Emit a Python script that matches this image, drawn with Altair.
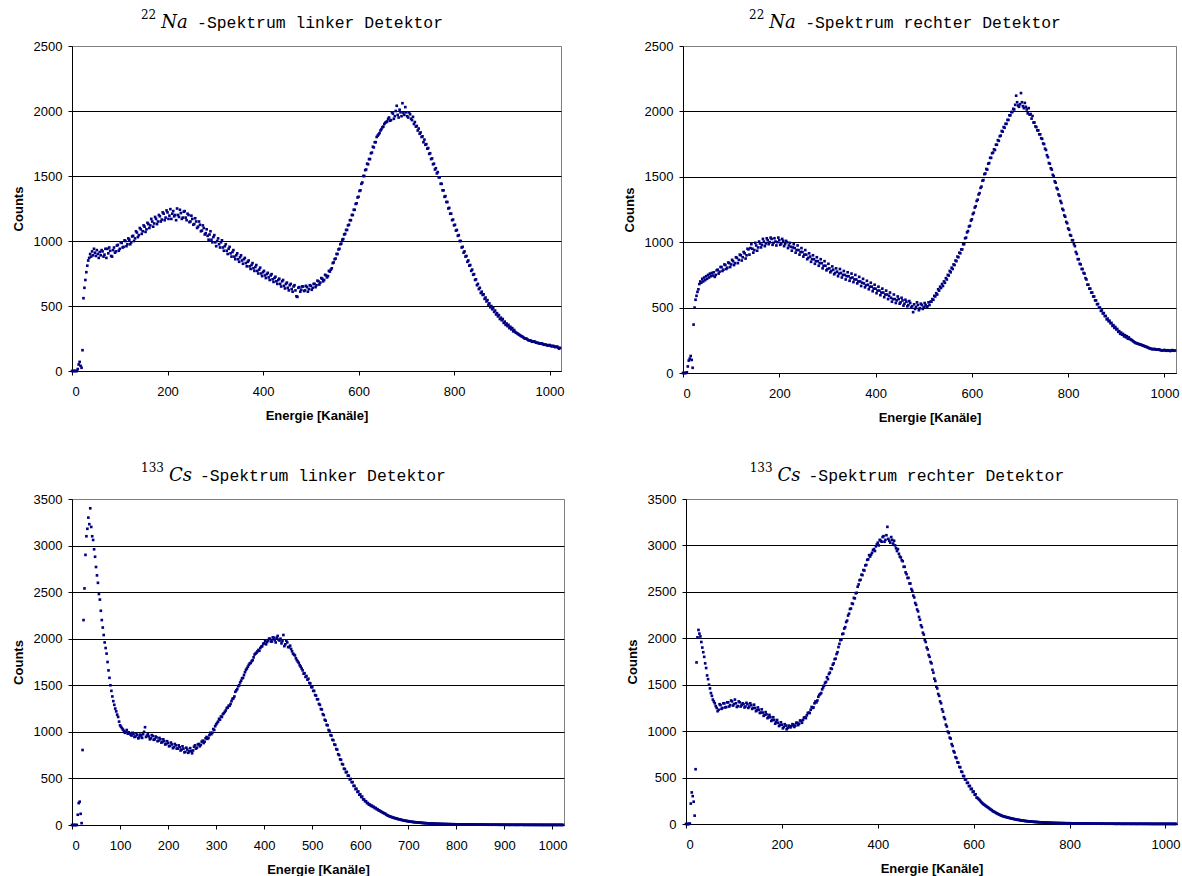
import altair as alt
import pandas as pd

# Every 2nd channel of the 1024-channel MCA
CHANNELS = list(range(0, 1024, 2))

# 22Na spectrum, left detector (16 values = 32 channels per row)
NA_LEFT = [
    0, 0, 0, 0, 0, 0, 15, 50, 70, 40, 25, 160, 560, 640, 700, 760,
    810, 850, 870, 900, 880, 920, 890, 940, 910, 885, 930, 900, 870, 915, 890, 930,
    920, 880, 895, 940, 870, 940, 905, 950, 925, 885, 880, 930, 950, 910, 920, 965,
    970, 925, 940, 990, 985, 950, 955, 1005, 1000, 960, 975, 1020, 1010, 975, 990, 1035,
    1040, 1000, 1020, 1075, 1065, 1030, 1045, 1100, 1090, 1055, 1075, 1120, 1110, 1070, 1090, 1140,
    1130, 1100, 1120, 1170, 1150, 1110, 1135, 1185, 1170, 1130, 1150, 1200, 1190, 1150, 1165, 1220,
    1210, 1160, 1180, 1235, 1220, 1170, 1195, 1245, 1170, 1210, 1230, 1190, 1200, 1160, 1250, 1200,
    1185, 1240, 1215, 1170, 1180, 1225, 1230, 1180, 1160, 1210, 1200, 1145, 1150, 1195, 1170, 1125,
    1130, 1175, 1150, 1100, 1110, 1150, 1125, 1075, 1080, 1120, 1100, 1050, 1060, 1090, 1040, 1010,
    1050, 1075, 1010, 990, 1030, 1045, 990, 960, 1000, 1020, 975, 950, 990, 1005, 950, 925,
    960, 975, 925, 900, 940, 955, 905, 880, 915, 930, 880, 860, 890, 905, 860, 840,
    875, 890, 850, 825, 860, 870, 830, 805, 840, 850, 805, 785, 815, 830, 790, 770,
    800, 815, 770, 750, 780, 795, 750, 730, 760, 770, 735, 715, 745, 755, 720, 700,
    735, 745, 705, 685, 715, 725, 690, 670, 700, 710, 670, 650, 690, 700, 655, 635,
    670, 680, 640, 620, 660, 670, 630, 610, 650, 660, 620, 575, 570, 640, 645, 610,
    625, 650, 650, 615, 620, 655, 645, 610, 630, 660, 655, 625, 640, 670, 670, 645,
    660, 695, 690, 665, 680, 715, 710, 690, 700, 740, 735, 720, 730, 770, 765, 780,
    790, 830, 835, 860, 865, 900, 900, 935, 940, 975, 980, 1010, 1015, 1050, 1055, 1085,
    1085, 1120, 1125, 1160, 1160, 1200, 1200, 1240, 1240, 1285, 1290, 1335, 1340, 1385, 1390, 1440,
    1450, 1500, 1500, 1545, 1550, 1595, 1590, 1630, 1630, 1675, 1680, 1725, 1720, 1760, 1760, 1800,
    1810, 1820, 1830, 1850, 1860, 1875, 1880, 1900, 1910, 1915, 1920, 1940, 1950, 1925, 1930, 1990,
    1980, 1940, 1960, 2000, 2040, 1970, 1950, 2010, 1990, 1960, 2060, 1985, 1970, 2030, 1990, 1960,
    1950, 1990, 1975, 1940, 1930, 1955, 1900, 1915, 1880, 1885, 1850, 1865, 1825, 1835, 1800, 1805,
    1760, 1780, 1740, 1745, 1710, 1715, 1670, 1675, 1630, 1635, 1590, 1595, 1550, 1560, 1520, 1530,
    1490, 1490, 1440, 1440, 1390, 1390, 1340, 1345, 1300, 1300, 1250, 1255, 1210, 1210, 1160, 1165,
    1120, 1125, 1080, 1085, 1040, 1045, 1000, 1000, 950, 955, 910, 920, 880, 885, 840, 850,
    810, 815, 770, 780, 740, 745, 700, 705, 660, 670, 630, 640, 600, 610, 585, 590,
    555, 565, 535, 545, 510, 520, 490, 500, 475, 485, 455, 465, 435, 445, 420, 430,
    400, 410, 390, 400, 370, 380, 355, 365, 345, 355, 330, 340, 320, 330, 305, 315,
    300, 295, 290, 285, 280, 275, 270, 266, 262, 256, 250, 249, 248, 242, 236, 235,
    235, 230, 225, 226, 228, 223, 218, 217, 216, 213, 210, 211, 212, 207, 202, 203,
    203, 199, 196, 198, 200, 195, 190, 192, 193, 188, 184, 186, 188, 180, 172, 178,
]

# 22Na spectrum, right detector
NA_RIGHT = [
    0, 0, 0, 0, 5, 50, 95, 110, 130, 100, 40, 370, 500, 560, 590, 620,
    640, 680, 700, 690, 720, 700, 730, 710, 740, 720, 750, 730, 760, 740, 765, 745,
    770, 735, 750, 785, 790, 760, 775, 810, 810, 780, 790, 830, 825, 795, 805, 845,
    840, 810, 830, 865, 855, 825, 840, 885, 880, 840, 865, 905, 900, 860, 885, 925,
    915, 875, 900, 950, 945, 905, 955, 985, 950, 920, 940, 995, 975, 935, 960, 1005,
    990, 960, 980, 1025, 1005, 970, 990, 1030, 1015, 985, 1000, 1035, 1025, 980, 995, 1030,
    1005, 975, 1000, 1035, 1015, 980, 990, 1025, 1010, 970, 985, 1010, 1000, 955, 975, 995,
    965, 935, 960, 985, 955, 920, 940, 975, 940, 905, 925, 955, 925, 890, 905, 940,
    905, 870, 880, 915, 890, 850, 870, 900, 870, 835, 855, 885, 855, 820, 840, 870,
    840, 800, 820, 855, 820, 785, 795, 835, 800, 770, 780, 815, 790, 755, 765, 800,
    775, 740, 760, 795, 765, 730, 750, 780, 750, 715, 740, 770, 740, 705, 725, 760,
    730, 695, 715, 750, 715, 685, 700, 735, 700, 665, 690, 720, 685, 655, 670, 705,
    675, 640, 660, 690, 660, 625, 645, 675, 645, 610, 630, 660, 630, 595, 615, 645,
    615, 580, 600, 630, 600, 565, 590, 615, 575, 545, 565, 600, 565, 535, 555, 585,
    565, 530, 540, 575, 555, 515, 530, 560, 545, 510, 520, 550, 535, 500, 510, 465,
    525, 490, 505, 540, 520, 480, 495, 530, 520, 490, 505, 535, 520, 505, 510, 540,
    520, 545, 545, 565, 560, 590, 585, 610, 600, 640, 630, 660, 650, 680, 665, 700,
    690, 725, 715, 750, 745, 780, 770, 805, 795, 830, 825, 860, 855, 890, 885, 920,
    915, 945, 945, 985, 985, 1030, 1035, 1075, 1085, 1120, 1125, 1165, 1175, 1215, 1225, 1265,
    1275, 1315, 1325, 1365, 1375, 1415, 1425, 1470, 1475, 1520, 1525, 1560, 1555, 1600, 1605, 1645,
    1645, 1680, 1685, 1710, 1705, 1745, 1745, 1780, 1775, 1810, 1815, 1850, 1845, 1880, 1875, 1905,
    1905, 1935, 1935, 1970, 1970, 1995, 1995, 2020, 2015, 2050, 2120, 2070, 2045, 2035, 2055, 2140,
    2070, 2040, 2025, 2065, 2035, 2015, 1985, 2025, 1975, 1980, 1945, 1965, 1915, 1915, 1885, 1880,
    1855, 1855, 1825, 1825, 1795, 1790, 1755, 1750, 1715, 1705, 1665, 1650, 1605, 1600, 1565, 1555,
    1515, 1505, 1465, 1455, 1415, 1405, 1365, 1355, 1315, 1300, 1255, 1245, 1205, 1195, 1155, 1145,
    1105, 1095, 1055, 1050, 1015, 1015, 985, 970, 925, 910, 870, 870, 835, 830, 795, 795,
    765, 760, 725, 715, 675, 675, 645, 645, 615, 615, 585, 585, 555, 555, 525, 528,
    500, 500, 475, 478, 455, 458, 435, 436, 410, 416, 395, 400, 380, 383, 360, 366,
    345, 352, 333, 337, 315, 320, 300, 309, 293, 299, 280, 289, 273, 281, 263, 272,
    260, 256, 252, 246, 240, 235, 230, 228, 225, 222, 220, 218, 215, 212, 210, 206,
    203, 200, 198, 194, 190, 188, 185, 183, 182, 183, 183, 180, 178, 179, 180, 177,
    175, 173, 172, 174, 176, 173, 170, 172, 174, 171, 168, 171, 175, 172, 170, 172,
]

# 133Cs spectrum, left detector
CS_LEFT = [
    0, 0, 0, 0, 0, 0, 110, 235, 250, 120, 20, 805, 2200, 2540, 2900, 3100,
    3180, 3300, 3230, 3400, 3200, 3100, 3060, 2960, 2880, 2770, 2680, 2600, 2480, 2420, 2300, 2200,
    2120, 2040, 1960, 1900, 1840, 1750, 1660, 1580, 1500, 1440, 1380, 1330, 1290, 1250, 1220, 1185,
    1160, 1110, 1070, 1055, 1040, 1025, 1010, 990, 1000, 1020, 980, 995, 985, 970, 960, 990,
    975, 945, 950, 985, 965, 930, 940, 970, 960, 935, 975, 1000, 1050, 945, 960, 975,
    950, 920, 930, 965, 955, 915, 920, 950, 940, 900, 905, 935, 920, 885, 890, 920,
    900, 865, 870, 900, 880, 845, 850, 885, 865, 825, 835, 870, 855, 820, 820, 855,
    835, 800, 810, 845, 820, 780, 785, 830, 810, 775, 790, 825, 795, 770, 800, 840,
    855, 820, 830, 865, 870, 845, 860, 895, 905, 880, 895, 930, 945, 925, 935, 965,
    990, 975, 990, 1030, 1020, 1060, 1080, 1095, 1110, 1140, 1130, 1165, 1160, 1190, 1200, 1215,
    1230, 1255, 1260, 1280, 1280, 1300, 1330, 1355, 1360, 1380, 1430, 1445, 1460, 1490, 1500, 1530,
    1550, 1575, 1580, 1610, 1640, 1665, 1680, 1700, 1720, 1735, 1740, 1760, 1770, 1800, 1830, 1840,
    1850, 1865, 1880, 1870, 1900, 1915, 1920, 1945, 1950, 1975, 1940, 1965, 1980, 2000, 2000, 1970,
    1970, 2015, 2010, 1985, 1960, 2010, 2030, 1990, 1980, 2000, 1950, 1975, 2040, 1920, 1940, 1980,
    1960, 1910, 1910, 1925, 1890, 1865, 1840, 1830, 1820, 1790, 1770, 1755, 1740, 1715, 1700, 1680,
    1660, 1625, 1630, 1590, 1600, 1560, 1570, 1525, 1520, 1480, 1480, 1440, 1440, 1395, 1390, 1350,
    1350, 1300, 1290, 1245, 1240, 1190, 1180, 1130, 1120, 1075, 1070, 1020, 1010, 965, 960, 915,
    910, 865, 860, 815, 810, 760, 750, 705, 700, 655, 650, 605, 600, 565, 570, 530,
    530, 490, 495, 460, 460, 420, 420, 385, 390, 355, 360, 325, 330, 300, 305, 275,
    275, 255, 255, 235, 235, 218, 220, 205, 208, 195, 195, 182, 183, 170, 170, 158,
    155, 148, 142, 136, 130, 125, 120, 112, 105, 100, 95, 91, 88, 84, 80, 77,
    74, 71, 68, 65, 62, 60, 57, 54, 52, 50, 47, 45, 44, 42, 40, 38,
    37, 35, 34, 32, 31, 30, 29, 28, 27, 26, 25, 24, 23, 22, 21, 20,
    20, 19, 18, 17, 17, 16, 16, 15, 15, 14, 14, 13, 13, 12, 12, 12,
    11, 11, 11, 10, 10, 10, 10, 9, 9, 9, 9, 8, 8, 8, 8, 7,
    7, 7, 7, 7, 7, 6, 6, 6, 6, 6, 6, 5, 5, 6, 5, 5,
    5, 5, 4, 5, 4, 5, 4, 4, 4, 4, 5, 4, 4, 4, 4, 3,
    4, 3, 3, 4, 3, 3, 3, 4, 3, 3, 3, 3, 3, 2, 3, 3,
    2, 3, 3, 2, 2, 3, 2, 2, 2, 2, 3, 2, 2, 2, 2, 2,
    2, 2, 2, 2, 3, 2, 2, 1, 2, 2, 2, 1, 2, 2, 1, 2,
    2, 1, 2, 1, 1, 2, 2, 1, 1, 2, 1, 1, 1, 2, 1, 1,
    1, 1, 2, 1, 1, 1, 2, 1, 1, 1, 1, 2, 1, 1, 1, 1,
]

# 133Cs spectrum, right detector
CS_RIGHT = [
    0, 0, 0, 0, 5, 220, 340, 300, 240, 90, 590, 1740, 2010, 2090, 2050, 2020,
    1960, 1900, 1850, 1800, 1730, 1680, 1600, 1560, 1500, 1460, 1410, 1380, 1340, 1320, 1300, 1270,
    1250, 1215, 1230, 1290, 1280, 1240, 1250, 1300, 1300, 1255, 1260, 1310, 1310, 1265, 1280, 1330,
    1320, 1275, 1290, 1340, 1300, 1260, 1270, 1320, 1310, 1265, 1280, 1300, 1290, 1255, 1265, 1305,
    1290, 1250, 1265, 1300, 1280, 1240, 1250, 1285, 1250, 1215, 1225, 1255, 1230, 1195, 1200, 1235,
    1200, 1165, 1175, 1205, 1180, 1140, 1150, 1175, 1150, 1110, 1120, 1150, 1120, 1080, 1095, 1120,
    1090, 1055, 1065, 1095, 1070, 1030, 1045, 1075, 1060, 1020, 1035, 1060, 1050, 1040, 1055, 1075,
    1070, 1045, 1060, 1090, 1090, 1065, 1080, 1115, 1110, 1090, 1120, 1145, 1150, 1140, 1170, 1195,
    1200, 1195, 1230, 1260, 1250, 1255, 1300, 1320, 1310, 1330, 1370, 1390, 1400, 1410, 1450, 1470,
    1490, 1520, 1530, 1580, 1560, 1615, 1630, 1675, 1670, 1715, 1730, 1775, 1780, 1830, 1850, 1905,
    1940, 1980, 1985, 2045, 2050, 2105, 2120, 2175, 2190, 2245, 2265, 2315, 2320, 2375, 2370, 2435,
    2430, 2485, 2490, 2555, 2580, 2625, 2630, 2685, 2680, 2735, 2730, 2785, 2790, 2845, 2850, 2895,
    2880, 2900, 2920, 2950, 2960, 2940, 2990, 3010, 3030, 3000, 3060, 3050, 3040, 3090, 3100, 3040,
    3060, 3110, 3200, 3070, 3050, 3030, 3090, 3060, 3020, 3050, 3000, 2970, 2940, 2960, 2910, 2880,
    2870, 2840, 2830, 2770, 2770, 2710, 2690, 2650, 2650, 2590, 2590, 2530, 2510, 2460, 2440, 2380,
    2360, 2310, 2290, 2230, 2200, 2140, 2120, 2060, 2040, 1980, 1960, 1900, 1880, 1820, 1800, 1745,
    1730, 1660, 1630, 1565, 1540, 1480, 1460, 1400, 1380, 1320, 1300, 1235, 1210, 1150, 1130, 1070,
    1050, 995, 980, 930, 920, 860, 840, 785, 770, 720, 710, 665, 660, 615, 610, 565,
    560, 518, 515, 478, 480, 442, 445, 408, 410, 375, 380, 345, 350, 315, 320, 285,
    280, 270, 260, 248, 235, 225, 215, 208, 200, 192, 185, 178, 170, 162, 155, 148,
    138, 133, 128, 122, 115, 110, 105, 100, 95, 90, 86, 83, 80, 77, 74, 71,
    68, 66, 63, 61, 58, 56, 54, 51, 49, 47, 45, 44, 42, 40, 38, 37,
    35, 34, 32, 31, 30, 29, 28, 27, 26, 25, 24, 23, 22, 22, 21, 20,
    19, 19, 18, 18, 17, 16, 16, 15, 15, 14, 14, 13, 13, 13, 12, 12,
    11, 11, 11, 10, 10, 10, 10, 9, 9, 9, 9, 9, 8, 8, 8, 8,
    8, 8, 7, 7, 7, 7, 7, 6, 6, 6, 6, 6, 6, 5, 5, 5,
    5, 5, 5, 5, 5, 5, 4, 4, 4, 4, 4, 4, 4, 4, 4, 4,
    4, 3, 3, 4, 4, 3, 3, 3, 3, 3, 3, 3, 3, 3, 3, 2,
    3, 2, 2, 3, 3, 2, 2, 2, 2, 2, 2, 2, 2, 3, 2, 2,
    2, 2, 2, 2, 2, 2, 1, 2, 2, 2, 2, 2, 2, 2, 1, 2,
    2, 2, 1, 2, 1, 2, 1, 1, 2, 1, 1, 2, 1, 1, 1, 2,
    1, 1, 1, 2, 1, 1, 1, 1, 2, 1, 1, 1, 1, 1, 1, 1,
]

for series in (NA_LEFT, NA_RIGHT, CS_LEFT, CS_RIGHT):
    assert len(series) == len(CHANNELS), (len(series), len(CHANNELS))

DOT_COLOR = "#000080"
SANS = "Liberation Sans"
SERIF = "DejaVu Serif"
MONO = "Liberation Mono"
SYMBOL_WIDTH = {"Na": 27.5, "Cs": 22.5}


def title_marks(width, mass, symbol, rest):
    """Title like '$^{22}Na$ -Spektrum ...' built from three text pieces."""
    sup_fs, sym_fs, mono_fs = 12, 18, 16.4
    sup_w = len(mass) * 0.636 * sup_fs
    sym_w = SYMBOL_WIDTH[symbol]
    mono_w = len(rest) * 0.6 * mono_fs
    total = sup_w + 5 + sym_w + 8.4 + mono_w
    cx = width / 2 - 24.5
    x_sup = cx - total / 2
    x_sym = x_sup + sup_w + 5
    x_mono = x_sym + sym_w + 8.4
    base_y = -18.5

    def piece(text, x, y, **style):
        return alt.Chart(pd.DataFrame({"t": [text]})).mark_text(
            align="left", baseline="alphabetic", color="black", **style
        ).encode(x=alt.value(x), y=alt.value(y), text="t:N")

    return [
        piece(mass, x_sup, base_y - 8.5, font=SERIF, fontSize=sup_fs),
        piece(symbol, x_sym, base_y, font=SERIF, fontSize=sym_fs, fontStyle="italic"),
        piece(rest, x_mono, base_y, font=MONO, fontSize=mono_fs),
    ]


def panel(values, ymax, xstep, width, height, mass, symbol, rest):
    df = pd.DataFrame({"Kanal": CHANNELS, "Counts": values})
    points = alt.Chart(df).mark_square(size=7, color=DOT_COLOR, opacity=1).encode(
        x=alt.X(
            "Kanal:Q",
            scale=alt.Scale(domain=[0, 1024], nice=False),
            axis=alt.Axis(
                values=list(range(0, 1001, xstep)),
                format="d",
                title="Energie [Kanäle]",
                grid=False,
                labelPadding=10,
                titlePadding=11,
            ),
        ),
        y=alt.Y(
            "Counts:Q",
            scale=alt.Scale(domain=[0, ymax], nice=False),
            axis=alt.Axis(
                values=list(range(0, ymax + 1, 500)),
                format="d",
                title="Counts",
                grid=True,
                gridColor={
                    "condition": {"test": f"datum.value >= {ymax}", "value": "#808080"},
                    "value": "#000000",
                },
                labelPadding=6,
                titlePadding=8,
            ),
        ),
    )
    return alt.layer(points, *title_marks(width, mass, symbol, rest)).properties(
        width=width, height=height
    )


top = alt.hconcat(
    panel(NA_LEFT, 2500, 200, 489, 325, "22", "Na", "-Spektrum linker Detektor"),
    panel(NA_RIGHT, 2500, 200, 493, 327, "22", "Na", "-Spektrum rechter Detektor"),
    spacing=57,
)
bottom = alt.hconcat(
    panel(CS_LEFT, 3500, 100, 492, 326, "133", "Cs", "-Spektrum linker Detektor"),
    panel(CS_RIGHT, 3500, 200, 491, 325, "133", "Cs", "-Spektrum rechter Detektor"),
    spacing=57,
)

chart = (
    alt.vconcat(top, bottom, spacing=36)
    .properties(
        padding={"left": 11, "top": 8, "right": 0, "bottom": 0},
        background="white",
    )
    .configure_view(stroke="#808080", strokeWidth=1)
    .configure_axis(
        labelFont=SANS,
        labelFontSize=13,
        labelColor="black",
        titleFont=SANS,
        titleFontSize=13,
        titleFontWeight="bold",
        titleColor="black",
        domainColor="black",
        domainWidth=1,
        tickColor="black",
        tickSize=4,
        tickWidth=1,
        gridWidth=1,
    )
)

chart.save("out.html", embed_options={"renderer": "svg", "actions": False})
